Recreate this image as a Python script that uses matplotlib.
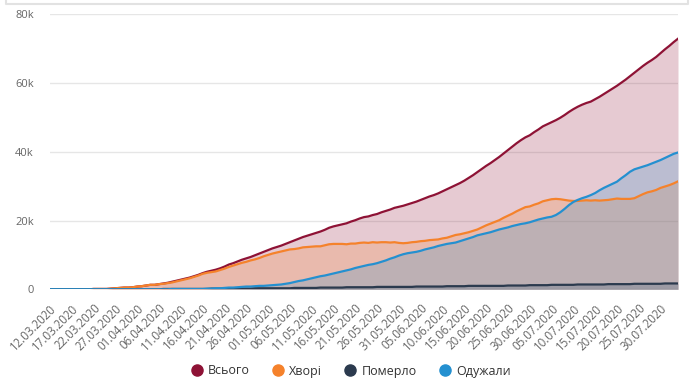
import matplotlib
matplotlib.use('Agg')
import matplotlib.pyplot as plt
import matplotlib.dates as mdates
from matplotlib.lines import Line2D
from matplotlib.ticker import FuncFormatter
import pandas as pd

plt.rcParams['font.family'] = ['Open Sans', 'DejaVu Sans']

# дані по днях, тис. осіб (12.03.2020 - 03.08.2020)
dates = pd.date_range('2020-03-12', '2020-08-03', freq='D')

total = ([0.0, 0.0, 0.0, 0.0, 0.0, 0.0, 0.0, 0.0, 0.0, 0.0, 0.1, 0.1, 0.1, 0.1, 0.2, 0.3, 0.4, 0.5, 0.5, 0.6]
         + [0.8, 0.9, 1.1, 1.3, 1.3, 1.5, 1.7, 1.9, 2.2, 2.5, 2.8, 3.1, 3.4, 3.8, 4.2, 4.7, 5.1, 5.4, 5.7, 6.1,
            6.6, 7.2, 7.6, 8.1, 8.6, 9.0, 9.4, 9.9, 10.4, 10.9]
         + [11.4, 11.9, 12.3, 12.7, 13.2, 13.7, 14.2, 14.7, 15.2, 15.6, 16.0, 16.4, 16.8, 17.3, 17.9, 18.3, 18.6,
            18.9, 19.2, 19.7, 20.1, 20.6, 21.0, 21.2, 21.6, 21.9, 22.4, 22.8, 23.2, 23.7, 24.0]
         + [24.3, 24.7, 25.1, 25.5, 26.0, 26.5, 27.0, 27.4, 27.9, 28.5, 29.1, 29.7, 30.3, 30.9, 31.6, 32.4, 33.2,
            34.1, 35.0, 35.9, 36.7, 37.6, 38.5, 39.5, 40.5, 41.5, 42.5, 43.4, 44.2, 44.8]
         + [45.7, 46.5, 47.4, 48.0, 48.6, 49.2, 49.9, 50.7, 51.6, 52.4, 53.1, 53.7, 54.2, 54.6, 55.3, 56.0, 56.8,
            57.6, 58.4, 59.2, 60.1, 61.0, 62.0, 63.0, 64.0, 65.0, 65.9, 66.7, 67.6, 68.7, 69.8]
         + [70.8, 71.9, 72.9])

active = ([0.0, 0.0, 0.0, 0.0, 0.0, 0.0, 0.0, 0.0, 0.0, 0.0, 0.1, 0.1, 0.1, 0.1, 0.2, 0.3, 0.4, 0.5, 0.5, 0.6]
          + [0.8, 0.9, 1.1, 1.3, 1.3, 1.5, 1.6, 1.8, 2.0, 2.3, 2.6, 2.9, 3.2, 3.6, 4.0, 4.5, 4.8, 5.0, 5.2, 5.6,
             6.0, 6.5, 6.9, 7.3, 7.7, 8.0, 8.4, 8.7, 9.1, 9.6]
          + [10.0, 10.4, 10.7, 11.0, 11.3, 11.6, 11.7, 11.9, 12.2, 12.3, 12.4, 12.5, 12.5, 12.8, 13.1, 13.2, 13.2,
             13.2, 13.1, 13.3, 13.3, 13.5, 13.6, 13.5, 13.7, 13.6, 13.7, 13.7, 13.6, 13.7, 13.5]
          + [13.4, 13.5, 13.7, 13.8, 14.0, 14.1, 14.3, 14.4, 14.5, 14.8, 15.0, 15.4, 15.8, 16.0, 16.3, 16.6, 17.0,
             17.4, 18.0, 18.6, 19.1, 19.6, 20.1, 20.8, 21.4, 22.0, 22.7, 23.3, 23.9, 24.1]
          + [24.6, 25.0, 25.6, 25.9, 26.2, 26.3, 26.2, 26.0, 25.8, 25.7, 25.7, 25.8, 25.9, 25.8, 25.9, 25.8, 25.9,
             26.0, 26.2, 26.4, 26.3, 26.3, 26.3, 26.5, 27.1, 27.7, 28.2, 28.5, 28.9, 29.5, 29.9]
          + [30.3, 30.8, 31.4])

deaths = ([0.0] * 20
          + [0.0, 0.0, 0.0, 0.0, 0.0, 0.0, 0.1, 0.1, 0.1, 0.1, 0.1, 0.1, 0.1, 0.1, 0.1, 0.1, 0.1, 0.2, 0.2, 0.2,
             0.2, 0.2, 0.2, 0.2, 0.2, 0.2, 0.2, 0.3, 0.3, 0.3]
          + [0.3, 0.3, 0.3, 0.3, 0.3, 0.3, 0.4, 0.4, 0.4, 0.4, 0.4, 0.4, 0.5, 0.5, 0.5, 0.5, 0.5, 0.5, 0.6, 0.6,
             0.6, 0.6, 0.6, 0.6, 0.6, 0.7, 0.7, 0.7, 0.7, 0.7, 0.7]
          + [0.7, 0.7, 0.7, 0.8, 0.8, 0.8, 0.8, 0.8, 0.8, 0.8, 0.9, 0.9, 0.9, 0.9, 0.9, 1.0, 1.0, 1.0, 1.0, 1.0,
             1.0, 1.0, 1.0, 1.0, 1.1, 1.1, 1.1, 1.1, 1.1, 1.2]
          + [1.2, 1.2, 1.2, 1.2, 1.3, 1.3, 1.3, 1.3, 1.3, 1.3, 1.4, 1.4, 1.4, 1.4, 1.4, 1.4, 1.4, 1.5, 1.5, 1.5,
             1.5, 1.5, 1.5, 1.6, 1.6, 1.6, 1.6, 1.6, 1.6, 1.6, 1.7]
          + [1.7, 1.7, 1.7])

recovered = ([0.0] * 20
             + [0.0, 0.0, 0.0, 0.0, 0.0, 0.0, 0.0, 0.0, 0.1, 0.1, 0.1, 0.1, 0.1, 0.1, 0.1, 0.1, 0.2, 0.2, 0.3, 0.3,
                0.4, 0.5, 0.5, 0.6, 0.7, 0.8, 0.8, 0.9, 1.0, 1.0]
             + [1.1, 1.2, 1.3, 1.4, 1.6, 1.8, 2.1, 2.4, 2.6, 2.9, 3.2, 3.5, 3.8, 4.0, 4.3, 4.6, 4.9, 5.2, 5.5, 5.8,
                6.2, 6.5, 6.8, 7.1, 7.3, 7.6, 8.0, 8.4, 8.9, 9.3, 9.8]
             + [10.2, 10.5, 10.7, 10.9, 11.2, 11.6, 11.9, 12.2, 12.6, 12.9, 13.2, 13.4, 13.6, 14.0, 14.4, 14.8, 15.2,
                15.7, 16.0, 16.3, 16.6, 17.0, 17.4, 17.7, 18.0, 18.4, 18.7, 19.0, 19.2, 19.5]
             + [19.9, 20.3, 20.6, 20.9, 21.1, 21.6, 22.4, 23.4, 24.5, 25.4, 26.0, 26.5, 26.9, 27.4, 28.0, 28.8, 29.5,
                30.1, 30.7, 31.3, 32.3, 33.2, 34.2, 34.9, 35.3, 35.7, 36.1, 36.6, 37.1, 37.6, 38.2]
             + [38.8, 39.4, 39.8])

names = ['Всього', 'Хворі', 'Померло', 'Одужали']
colors = ['#8e1235', '#f5822b', '#2b3a4e', '#2490d0']
values = [total, active, deaths, recovered]

fig = plt.figure(figsize=(6.9, 3.87), dpi=100)
ax = fig.add_axes([50 / 690, 1 - 289.3 / 387, 628 / 690, 275 / 387])

for i, (vals, col) in enumerate(zip(values, colors)):
    ax.fill_between(dates, vals, color=col, alpha=0.22, lw=0, zorder=2 + i)
    ax.plot(dates, vals, color=col, lw=1.6, zorder=6 + i)

ax.set_xlim(dates[0], dates[-1])
ax.set_ylim(0, 80)
ax.set_yticks([0, 20, 40, 60, 80])
ax.yaxis.set_major_formatter(FuncFormatter(lambda v, p: '0' if v == 0 else '%dk' % v))
ax.set_xticks(dates[::5])
ax.xaxis.set_major_formatter(mdates.DateFormatter('%d.%m.%Y'))
ax.grid(axis='y', color='#e6e6e6', lw=1, zorder=0)
for s in ax.spines.values():
    s.set_visible(False)
ax.tick_params(axis='both', length=0, labelsize=8, labelcolor='#666666')
ax.tick_params(axis='y', pad=11.5)
ax.tick_params(axis='x', pad=9, labelsize=8.3)
plt.setp(ax.get_xticklabels(), rotation=45, ha='right', va='top', rotation_mode='anchor')

# рамка сусіднього блоку зверху
fig.add_artist(Line2D([6 / 690, 6 / 690, 688 / 690, 688 / 690], [1, 1 - 4 / 387, 1 - 4 / 387, 1],
                      color='#e2e2e2', lw=1.5))

handles = [Line2D([], [], ls='none', marker='o', markersize=8, color=c) for c in colors]
fig.legend(handles, names, loc='center', bbox_to_anchor=(0.508, 1 - 371 / 387), ncol=4, frameon=False,
           fontsize=9, labelcolor='#333333', handletextpad=0.4, columnspacing=1.75, handlelength=1)

fig.savefig('out.png', dpi=100)
